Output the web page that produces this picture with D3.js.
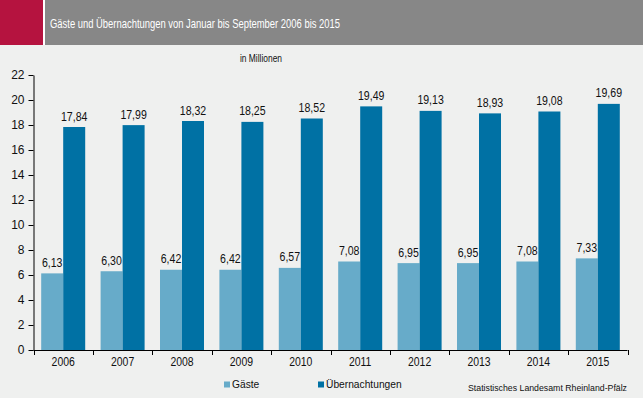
<!DOCTYPE html>
<html><head><meta charset="utf-8">
<script src="https://cdn.jsdelivr.net/npm/d3@7"></script>
<style>
html,body{margin:0;padding:0;background:#eff0ef;}
svg{display:block;font-family:"Liberation Sans",Arial,sans-serif;}
</style></head>
<body>
<svg id="c" width="643" height="398"></svg>
<script>
const years = ["2006","2007","2008","2009","2010","2011","2012","2013","2014","2015"];
const gaeste = [6.13,6.30,6.42,6.42,6.57,7.08,6.95,6.95,7.08,7.33];
const uebernachtungen = [17.84,17.99,18.32,18.25,18.52,19.49,19.13,18.93,19.08,19.69];
const yTicks = [0,2,4,6,8,10,12,14,16,18,20,22];
const seriesNames = ["Gäste","Übernachtungen"];
const title = "Gäste und Übernachtungen von Januar bis September 2006 bis 2015";
const unit = "in Millionen";
const source = "Statistisches Landesamt Rheinland-Pfälz";

(function(){
const colors = ["#67abc9","#0071a4"];
const svg = d3.select("#c");
const W = 643, H = 398;
function squeeze(sel, f){
  sel.each(function(){ const w = this.getComputedTextLength(); d3.select(this).attr("textLength", w*f).attr("lengthAdjust","spacingAndGlyphs"); });
}
svg.append("rect").attr("width",W).attr("height",H).attr("fill","#eff0ef");
// header
svg.append("rect").attr("x",0).attr("y",0).attr("width",W).attr("height",45).attr("fill","#ffffff");
svg.append("rect").attr("x",0).attr("y",0).attr("width",43).attr("height",45).attr("fill","#b5133f");
svg.append("rect").attr("x",45).attr("y",0).attr("width",W-45).attr("height",45).attr("fill","#878787");
svg.append("text").attr("x",50).attr("y",28).attr("fill","#fff").attr("font-size",13)
  .attr("textLength",290).attr("lengthAdjust","spacingAndGlyphs").text(title);
svg.append("text").attr("x",261).attr("y",62).attr("text-anchor","middle").attr("font-size",10.5)
  .attr("fill","#111").attr("textLength",42).attr("lengthAdjust","spacingAndGlyphs").text(unit);

const mLeft = 33.5, mRight = 627.5, mTop = 75, mBottom = 350;
const x = d3.scaleBand().domain(years).range([mLeft,mRight]).paddingInner(0).paddingOuter(0);
const y = d3.scaleLinear().domain([0,22]).range([mBottom,mTop]);
const bw = 22;

const g = svg.append("g");
years.forEach((yr,i)=>{
  const c = x(yr) + x.bandwidth()/2;
  [gaeste[i],uebernachtungen[i]].forEach((v,j)=>{
    const x0 = j===0 ? c-bw : c;
    g.append("rect").attr("x",x0).attr("y",y(v)).attr("width",bw).attr("height",y(0)-y(v)).attr("fill",colors[j]);
    g.append("text").attr("class","vl").attr("x",x0+bw/2).attr("y",y(v)-6.5).attr("text-anchor","middle")
      .attr("font-size",12).attr("fill","#111").text(d3.format(".2f")(v).replace(".",","));
  });
});
squeeze(g.selectAll("text.vl"), 0.88);

// y axis
const ya = svg.append("g").attr("transform",`translate(${mLeft},0)`)
  .call(d3.axisLeft(y).tickValues(yTicks).tickSize(5).tickSizeOuter(0).tickPadding(4));
ya.select(".domain").attr("stroke","#000");
ya.selectAll("text").attr("font-size",12).attr("fill","#111").attr("font-family","Liberation Sans, Arial, sans-serif");
// x axis with boundary ticks
const xa = svg.append("g").attr("transform",`translate(0,${mBottom})`);
xa.append("line").attr("x1",mLeft).attr("x2",mRight).attr("y1",0.5).attr("y2",0.5).attr("stroke","#000");
const bounds = years.map(d=>x(d)).concat([x(years[years.length-1])+x.bandwidth()]);
bounds.forEach(b=>xa.append("line").attr("x1",Math.round(b)+0.5).attr("x2",Math.round(b)+0.5).attr("y1",0).attr("y2",5).attr("stroke","#000"));
const yl = xa.selectAll("text.yr").data(years).enter().append("text").attr("class","yr")
  .attr("x",d=>x(d)+x.bandwidth()/2).attr("y",16).attr("text-anchor","middle")
  .attr("font-size",12).attr("fill","#111").text(d=>d);
squeeze(yl, 0.87);

// legend
const leg = [[224,0],[318,1]];
leg.forEach(([lx,j])=>{
  svg.append("rect").attr("x",lx).attr("y",381.5).attr("width",6).attr("height",6).attr("fill",colors[j]);
  const t = svg.append("text").attr("x",lx+8).attr("y",388).attr("font-size",11).attr("fill","#111").text(seriesNames[j]);
  squeeze(t, 0.93);
});
svg.append("text").attr("x",627).attr("y",391).attr("text-anchor","end").attr("font-size",9.5).attr("fill","#111")
  .attr("textLength",159).attr("lengthAdjust","spacingAndGlyphs").text(source);
})();
</script>
</body></html>
